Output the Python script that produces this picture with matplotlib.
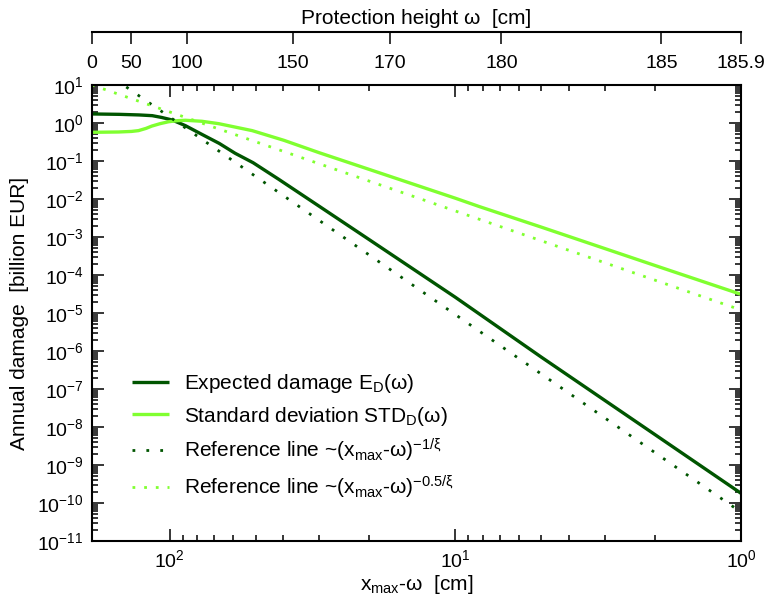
import matplotlib
matplotlib.use("Agg")
import matplotlib.pyplot as plt
from matplotlib.ticker import LogLocator, NullLocator, FixedLocator, FixedFormatter, NullFormatter

plt.rcParams['font.family'] = ['Liberation Sans', 'DejaVu Sans']
plt.rcParams['mathtext.fontset'] = 'custom'
plt.rcParams['mathtext.rm'] = 'Liberation Sans'
plt.rcParams['mathtext.it'] = 'Liberation Sans:italic'
plt.rcParams['mathtext.bf'] = 'Liberation Sans:bold'
plt.rcParams['mathtext.default'] = 'regular'

# ---- data (x = x_max - omega in cm) ----
x_max = 186.9
u_ed = [186.9, 150, 128, 115, 106.6, 98, 88, 77, 67, 59, 51, 41.5, 30, 20, 10, 5, 2, 1]
ed = [1.73, 1.69, 1.63, 1.56, 1.40, 1.20, 0.85, 0.50, 0.29, 0.16, 0.090, 0.033,
      6.5e-3, 8.5e-4, 2.6e-5, 6.9e-7, 6.3e-9, 1.8e-10]

u_std = [186.9, 151, 136, 128.5, 121, 115.4, 108, 100.8, 94, 88.1, 77.1, 67.3,
         51.4, 39.8, 30, 20, 10, 8.23, 5, 2, 1]
std = [0.569, 0.58, 0.60, 0.63, 0.72, 0.83, 0.96, 1.08, 1.15, 1.18, 1.11, 0.96,
       0.63, 0.35, 0.166, 0.060, 0.0105, 6.3e-3, 1.82e-3, 1.78e-4, 3.1e-5]

u_ref = [186.9, 1]
ref_ed = [37.3, 5.75e-11]
ref_std = [10.0, 1.2e-5]

omega_ticks = [0, 50, 100, 150, 170, 180, 185, 185.9]
omega_labels = ['0', '50', '100', '150', '170', '180', '185', '185.9']

dark = '#005500'
light = '#80ff30'

fig = plt.figure(figsize=(7.69, 6.05), dpi=100)
L, R, B, T = 92/769, 741/769, 1-541/605, 1-85/605
ax = fig.add_axes([L, B, R-L, T-B])

ax.plot(u_ed, ed, color=dark, lw=2.4, solid_capstyle='butt',
        label='Expected damage E$_{D}$(ω)')
ax.plot(u_std, std, color=light, lw=2.4, solid_capstyle='butt',
        label='Standard deviation STD$_{D}$(ω)')
ax.plot(u_ref, ref_ed, color=dark, lw=2.0, dashes=(1, 4),
        label='Reference line ~(x$_{max}$-ω)$^{-1/ξ}$')
ax.plot(u_ref, ref_std, color=light, lw=2.0, dashes=(1, 3.2),
        label='Reference line ~(x$_{max}$-ω)$^{-0.5/ξ}$')

ax.set_xscale('log')
ax.set_yscale('log')
ax.set_xlim(x_max, 1)
ax.set_ylim(1e-11, 10)

ax.xaxis.set_major_locator(LogLocator(base=10, numticks=20))
ax.xaxis.set_minor_locator(LogLocator(base=10, subs=range(2, 10), numticks=20))
ax.yaxis.set_major_locator(LogLocator(base=10, numticks=30))
ax.yaxis.set_minor_locator(LogLocator(base=10, subs=range(2, 10), numticks=30))
ax.yaxis.set_minor_formatter(NullFormatter())
ax.xaxis.set_minor_formatter(NullFormatter())

ax.tick_params(which='both', direction='in', top=True, right=True, width=1.1,
               labelsize=14, pad=6)
ax.tick_params(which='major', length=8.6)
ax.tick_params(which='minor', length=4.3)
for s in ax.spines.values():
    s.set_linewidth(1.5)

ax.set_xlabel('x$_{max}$-ω  [cm]', fontsize=15, labelpad=1)
ax.set_ylabel('Annual damage  [billion EUR]', fontsize=15, labelpad=6)

leg = ax.legend(loc='upper left', bbox_to_anchor=(0.0616, 0.370), frameon=False,
                fontsize=15, handlelength=1.8, handletextpad=0.7,
                labelspacing=0.45, borderpad=0, borderaxespad=0)

# top protection-height axis
yt = 1 - 32/605
ax2 = fig.add_axes([L, yt, R-L, 0.0001])
ax2.set_facecolor('none')
for k in ['top', 'left', 'right']:
    ax2.spines[k].set_visible(False)
ax2.spines['bottom'].set_linewidth(1.5)
ax2.set_xscale('log')
ax2.set_xlim(x_max, 1)
ax2.set_yticks([])
ax2.xaxis.set_major_locator(FixedLocator([x_max - w for w in omega_ticks]))
ax2.xaxis.set_major_formatter(FixedFormatter(omega_labels))
ax2.xaxis.set_minor_locator(NullLocator())
ax2.tick_params(axis='x', direction='out', length=8.6, width=1.1, labelsize=14, pad=8)
ax2.xaxis.set_label_position('top')
ax2.set_xlabel('Protection height ω  [cm]', fontsize=15, labelpad=6)

fig.savefig('out.png', dpi=100)
